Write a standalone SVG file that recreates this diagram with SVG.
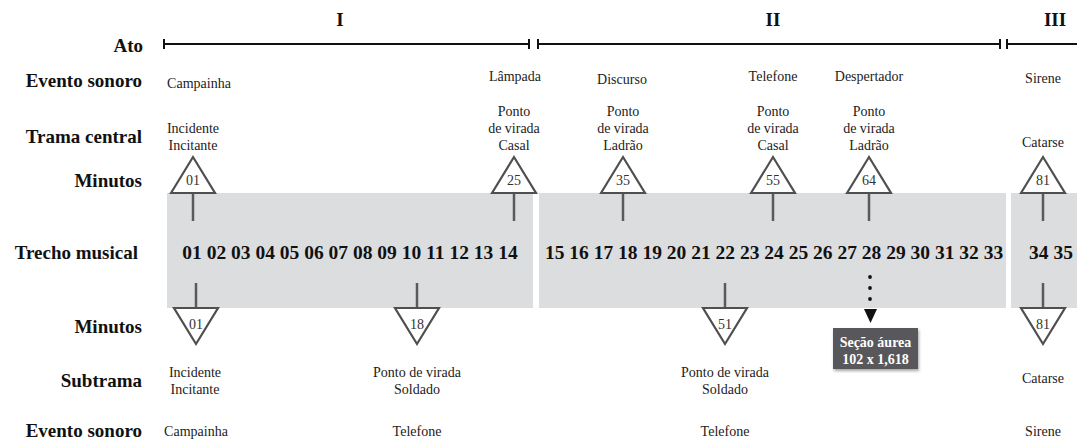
<svg xmlns="http://www.w3.org/2000/svg" width="1077" height="441" viewBox="0 0 1077 441">
<defs>
<style>
.rl{font-family:"Liberation Serif","Times New Roman",serif;font-weight:bold;font-size:19px;fill:#111;text-anchor:end}
.rn{font-family:"Liberation Serif","Times New Roman",serif;font-weight:bold;font-size:19px;fill:#111;text-anchor:middle}
.sm{font-family:"Liberation Serif","Times New Roman",serif;font-size:14px;fill:#222;text-anchor:middle}
.num{font-family:"Liberation Serif","Times New Roman",serif;font-size:14px;fill:#333;text-anchor:middle}
.mus{font-family:"Liberation Serif","Times New Roman",serif;font-weight:bold;font-size:19.5px;fill:#111;text-anchor:middle}
.band{fill:#dcdddf}
.tri{fill:#fff;stroke:#4f4f4f;stroke-width:2.2;stroke-linejoin:miter}
.stem{stroke:#5a5a5a;stroke-width:2.5}
.ato{stroke:#111;stroke-width:2;fill:none}
.box{font-family:"Liberation Serif","Times New Roman",serif;font-weight:bold;font-size:14px;fill:#fff;text-anchor:middle}
</style>
<filter id="sh" x="-20%" y="-20%" width="140%" height="150%">
<feDropShadow dx="1" dy="2" stdDeviation="1.5" flood-color="#000" flood-opacity="0.35"/>
</filter>
</defs>
<rect width="1077" height="441" fill="#fff"/>

<g id="row-labels">
<text class="rl" x="143" y="52">Ato</text>
<text class="rl" x="142" y="87">Evento sonoro</text>
<text class="rl" x="142" y="143">Trama central</text>
<text class="rl" x="142" y="187">Minutos</text>
<text class="rl" x="138" y="259">Trecho musical</text>
<text class="rl" x="142" y="333">Minutos</text>
<text class="rl" x="142" y="387">Subtrama</text>
<text class="rl" x="142" y="437">Evento sonoro</text>
</g>

<g id="acts">
<text class="rn" x="340" y="26">I</text>
<text class="rn" x="773" y="26">II</text>
<text class="rn" x="1055" y="26">III</text>
<path class="ato" d="M164 44H529M164 39V49M529 39V49"/>
<path class="ato" d="M538 44H1000M538 39V49M1000 39V49"/>
<path class="ato" d="M1007 44H1077M1007 39V49"/>
</g>

<g id="bands">
<rect class="band" x="167" y="193" width="366" height="115"/>
<rect class="band" x="539" y="193" width="467" height="115"/>
<rect class="band" x="1011" y="193" width="66" height="115"/>
</g>

<g id="music">
<text class="mus" x="350" y="259">01 02 03 04 05 06 07 08 09 10 11 12 13 14</text>
<text class="mus" x="774" y="259">15 16 17 18 19 20 21 22 23 24 25 26 27 28 29 30 31 32 33</text>
<text class="mus" x="1051" y="259">34 35</text>
</g>

<g id="connectors">
<line class="stem" x1="193" y1="193" x2="193" y2="221"/>
<line class="stem" x1="514" y1="193" x2="514" y2="221"/>
<line class="stem" x1="623" y1="193" x2="623" y2="221"/>
<line class="stem" x1="773" y1="193" x2="773" y2="221"/>
<line class="stem" x1="869" y1="193" x2="869" y2="221"/>
<line class="stem" x1="1043" y1="193" x2="1043" y2="221"/>
<line class="stem" x1="196" y1="283" x2="196" y2="308"/>
<line class="stem" x1="417" y1="283" x2="417" y2="308"/>
<line class="stem" x1="725" y1="283" x2="725" y2="308"/>
<line class="stem" x1="1043" y1="283" x2="1043" y2="308"/>
<g fill="#111">
<circle cx="870" cy="277" r="1.9"/>
<circle cx="870" cy="288" r="1.9"/>
<circle cx="870" cy="299" r="1.9"/>
<path d="M864 309H877L870.5 323Z"/>
</g>
</g>

<g id="top-triangles">
<g id="t01"><path class="tri" d="M171 193L193 157L215 193Z"/><text class="num" x="193" y="185">01</text></g>
<g id="t25"><path class="tri" d="M492 193L514 157L536 193Z"/><text class="num" x="514" y="185">25</text></g>
<g id="t35"><path class="tri" d="M601 193L623 157L645 193Z"/><text class="num" x="623" y="185">35</text></g>
<g id="t55"><path class="tri" d="M751 193L773 157L795 193Z"/><text class="num" x="773" y="185">55</text></g>
<g id="t64"><path class="tri" d="M847 193L869 157L891 193Z"/><text class="num" x="869" y="185">64</text></g>
<g id="t81"><path class="tri" d="M1021 193L1043 157L1065 193Z"/><text class="num" x="1043" y="185">81</text></g>
</g>

<g id="bottom-triangles">
<g id="b01"><path class="tri" d="M174 308L218 308L196 344Z"/><text class="num" x="196" y="329">01</text></g>
<g id="b18"><path class="tri" d="M395 308L439 308L417 344Z"/><text class="num" x="417" y="329">18</text></g>
<g id="b51"><path class="tri" d="M703 308L747 308L725 344Z"/><text class="num" x="725" y="329">51</text></g>
<g id="b81"><path class="tri" d="M1021 308L1065 308L1043 344Z"/><text class="num" x="1043" y="329">81</text></g>
</g>

<g id="golden-section">
<rect x="833" y="328" width="85" height="41" fill="#58595c" filter="url(#sh)"/>
<text class="box" x="875.5" y="347">Seção áurea</text>
<text class="box" x="875.5" y="364">102 x 1,618</text>
</g>

<g id="sound-events-top">
<text class="sm" x="199" y="88">Campainha</text>
<text class="sm" x="515" y="81">Lâmpada</text>
<text class="sm" x="622" y="84">Discurso</text>
<text class="sm" x="773" y="81">Telefone</text>
<text class="sm" x="869" y="81">Despertador</text>
<text class="sm" x="1043" y="83">Sirene</text>
</g>

<g id="main-plot">
<text class="sm" x="193" y="133">Incidente</text>
<text class="sm" x="193" y="150">Incitante</text>
<text class="sm" x="514" y="116">Ponto</text>
<text class="sm" x="514" y="133">de virada</text>
<text class="sm" x="514" y="150">Casal</text>
<text class="sm" x="623" y="116">Ponto</text>
<text class="sm" x="623" y="133">de virada</text>
<text class="sm" x="623" y="150">Ladrão</text>
<text class="sm" x="773" y="116">Ponto</text>
<text class="sm" x="773" y="133">de virada</text>
<text class="sm" x="773" y="150">Casal</text>
<text class="sm" x="869" y="116">Ponto</text>
<text class="sm" x="869" y="133">de virada</text>
<text class="sm" x="869" y="150">Ladrão</text>
<text class="sm" x="1043" y="147">Catarse</text>
</g>

<g id="subplot">
<text class="sm" x="195" y="377">Incidente</text>
<text class="sm" x="195" y="394">Incitante</text>
<text class="sm" x="417" y="377">Ponto de virada</text>
<text class="sm" x="417" y="394">Soldado</text>
<text class="sm" x="725" y="377">Ponto de virada</text>
<text class="sm" x="725" y="394">Soldado</text>
<text class="sm" x="1043" y="383">Catarse</text>
</g>

<g id="sound-events-bottom">
<text class="sm" x="196" y="436">Campainha</text>
<text class="sm" x="417" y="436">Telefone</text>
<text class="sm" x="725" y="436">Telefone</text>
<text class="sm" x="1043" y="436">Sirene</text>
</g>
</svg>
